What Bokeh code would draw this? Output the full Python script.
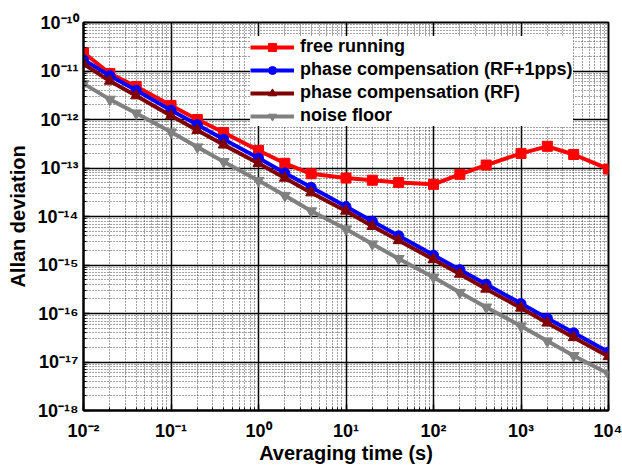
from bokeh.plotting import figure
from bokeh.models import FixedTicker, Legend, LegendItem, Range1d
from bokeh.embed import file_html
from bokeh.resources import INLINE

# ---- data ----
tau = [0.01, 0.02, 0.04, 0.1, 0.2, 0.4, 1, 2, 4, 10, 20, 40, 100, 200, 400,
       1000, 2000, 4000, 10000]
free_running = [2.4e-11, 8.9e-12, 4.8e-12, 1.95e-12, 1.0e-12, 5.4e-13, 2.3e-13,
                1.25e-13, 7.6e-14, 6.2e-14, 5.6e-14, 5.0e-14, 4.6e-14, 7.4e-14,
                1.15e-13, 2.0e-13, 2.8e-13, 1.9e-13, 9.5e-14]
phase_rf_1pps = [1.7e-11, 8.0e-12, 4.0e-12, 1.55e-12, 7.8e-13, 3.9e-13, 1.6e-13,
                 7.9e-14, 4.0e-14, 1.6e-14, 8.0e-15, 4.0e-15, 1.6e-15, 8.0e-16,
                 4.0e-16, 1.6e-16, 8.0e-17, 4.0e-17, 1.6e-17]
phase_rf = [1.4e-11, 6.2e-12, 3.1e-12, 1.2e-12, 6.0e-13, 3.0e-13, 1.25e-13,
            6.2e-14, 3.1e-14, 1.3e-14, 6.3e-15, 3.2e-15, 1.3e-15, 6.5e-16,
            3.2e-16, 1.3e-16, 6.4e-17, 3.2e-17, 1.3e-17]
noise_floor = [5.5e-12, 2.6e-12, 1.35e-12, 5.5e-13, 2.7e-13, 1.35e-13, 5.5e-14,
               2.7e-14, 1.3e-14, 5.5e-15, 2.7e-15, 1.35e-15, 5.6e-16, 2.7e-16,
               1.35e-16, 5.5e-17, 2.7e-17, 1.35e-17, 5.7e-18]

series_names = ["free running", "phase compensation (RF+1pps)",
                "phase compensation (RF)", "noise floor"]

x_ticks = [1e-2, 1e-1, 1e0, 1e1, 1e2, 1e3, 1e4]
x_tick_labels = ["10\u207b\u00b2", "10\u207b\u00b9", "10\u2070", "10\u00b9",
                 "10\u00b2", "10\u00b3", "10\u2074"]
y_ticks = [1e-18, 1e-17, 1e-16, 1e-15, 1e-14, 1e-13, 1e-12, 1e-11, 1e-10]
y_tick_labels = ["10\u207b\u00b9\u2078", "10\u207b\u00b9\u2077", "10\u207b\u00b9\u2076",
                 "10\u207b\u00b9\u2075", "10\u207b\u00b9\u2074", "10\u207b\u00b9\u00b3",
                 "10\u207b\u00b9\u00b2", "10\u207b\u00b9\u00b9", "10\u207b\u00b9\u2070"]

FONT = "Liberation Sans"

p = figure(width=622, height=466, x_axis_type="log", y_axis_type="log",
           x_range=Range1d(1e-2, 1e4), y_range=Range1d(1e-18, 1e-10),
           output_backend="svg", toolbar_location=None,
           min_border_left=83, min_border_right=14, min_border_top=22,
           min_border_bottom=55)

x_minor = [m * 10.0 ** e for e in range(-2, 4) for m in range(2, 10)]
y_minor = [m * 10.0 ** e for e in range(-18, -10) for m in range(2, 10)]
p.xaxis.ticker = FixedTicker(ticks=x_ticks, minor_ticks=x_minor)
p.yaxis.ticker = FixedTicker(ticks=y_ticks, minor_ticks=y_minor)
p.xaxis.major_label_overrides = dict(zip(x_ticks, x_tick_labels))
p.yaxis.major_label_overrides = dict(zip(y_ticks, y_tick_labels))

for ax in (p.xaxis, p.yaxis):
    ax.major_label_text_font = FONT
    ax.major_label_text_font_style = "bold"
    ax.major_label_text_font_size = "18px"
    ax.major_label_text_color = "black"
    ax.axis_label_text_font = FONT
    ax.axis_label_text_font_style = "bold"
    ax.axis_label_text_font_size = "20px"
    ax.axis_label_text_color = "black"
    ax.axis_line_width = 2
    ax.axis_line_color = "black"
    ax.major_tick_in = 6
    ax.major_tick_out = 0
    ax.minor_tick_in = 3
    ax.minor_tick_out = 0
    ax.major_tick_line_width = 1.5
    ax.major_tick_line_color = "black"
    ax.minor_tick_line_color = "black"
p.xaxis.axis_label = "Averaging time (s)"
p.yaxis.axis_label = "Allan deviation"
p.xaxis.major_label_standoff = 10
p.yaxis.major_label_standoff = 5
p.xaxis.axis_label_standoff = -2
p.yaxis.axis_label_standoff = 6

p.grid.grid_line_color = "black"
p.grid.grid_line_width = 1.5
p.grid.minor_grid_line_color = "#444444"
p.grid.minor_grid_line_dash = "1 2"
p.grid.minor_grid_line_width = 1

p.outline_line_color = "black"
p.outline_line_width = 2
p.background_fill_color = "white"
p.border_fill_color = "white"

colors = ["#ff0000", "#0000ff", "#800000", "#808080"]
data = [free_running, phase_rf_1pps, phase_rf, noise_floor]
markers = ["square", "circle", "triangle", "inverted_triangle"]
sizes = [10, 10, 11, 11]

items = []
for name, ys, c, m, s in zip(series_names, data, colors, markers, sizes):
    ln = p.line(tau, ys, line_color=c, line_width=4)
    sc = p.scatter(tau, ys, marker=m, size=s, fill_color=c, line_color=c)
    items.append(LegendItem(label=name, renderers=[ln, sc]))

legend = Legend(items=items, location=(167, 284))
legend.label_text_font = FONT
legend.label_text_font_style = "bold"
legend.label_text_font_size = "18px"
legend.label_text_color = "black"
legend.glyph_width = 44
legend.glyph_height = 20
legend.label_height = 20
legend.label_width = 273
legend.spacing = 2
legend.padding = 9
legend.margin = 0
legend.label_standoff = 6
legend.border_line_color = None
legend.background_fill_color = "white"
legend.background_fill_alpha = 1
p.add_layout(legend, "center")

open("out.html", "w").write(file_html(p, INLINE))
